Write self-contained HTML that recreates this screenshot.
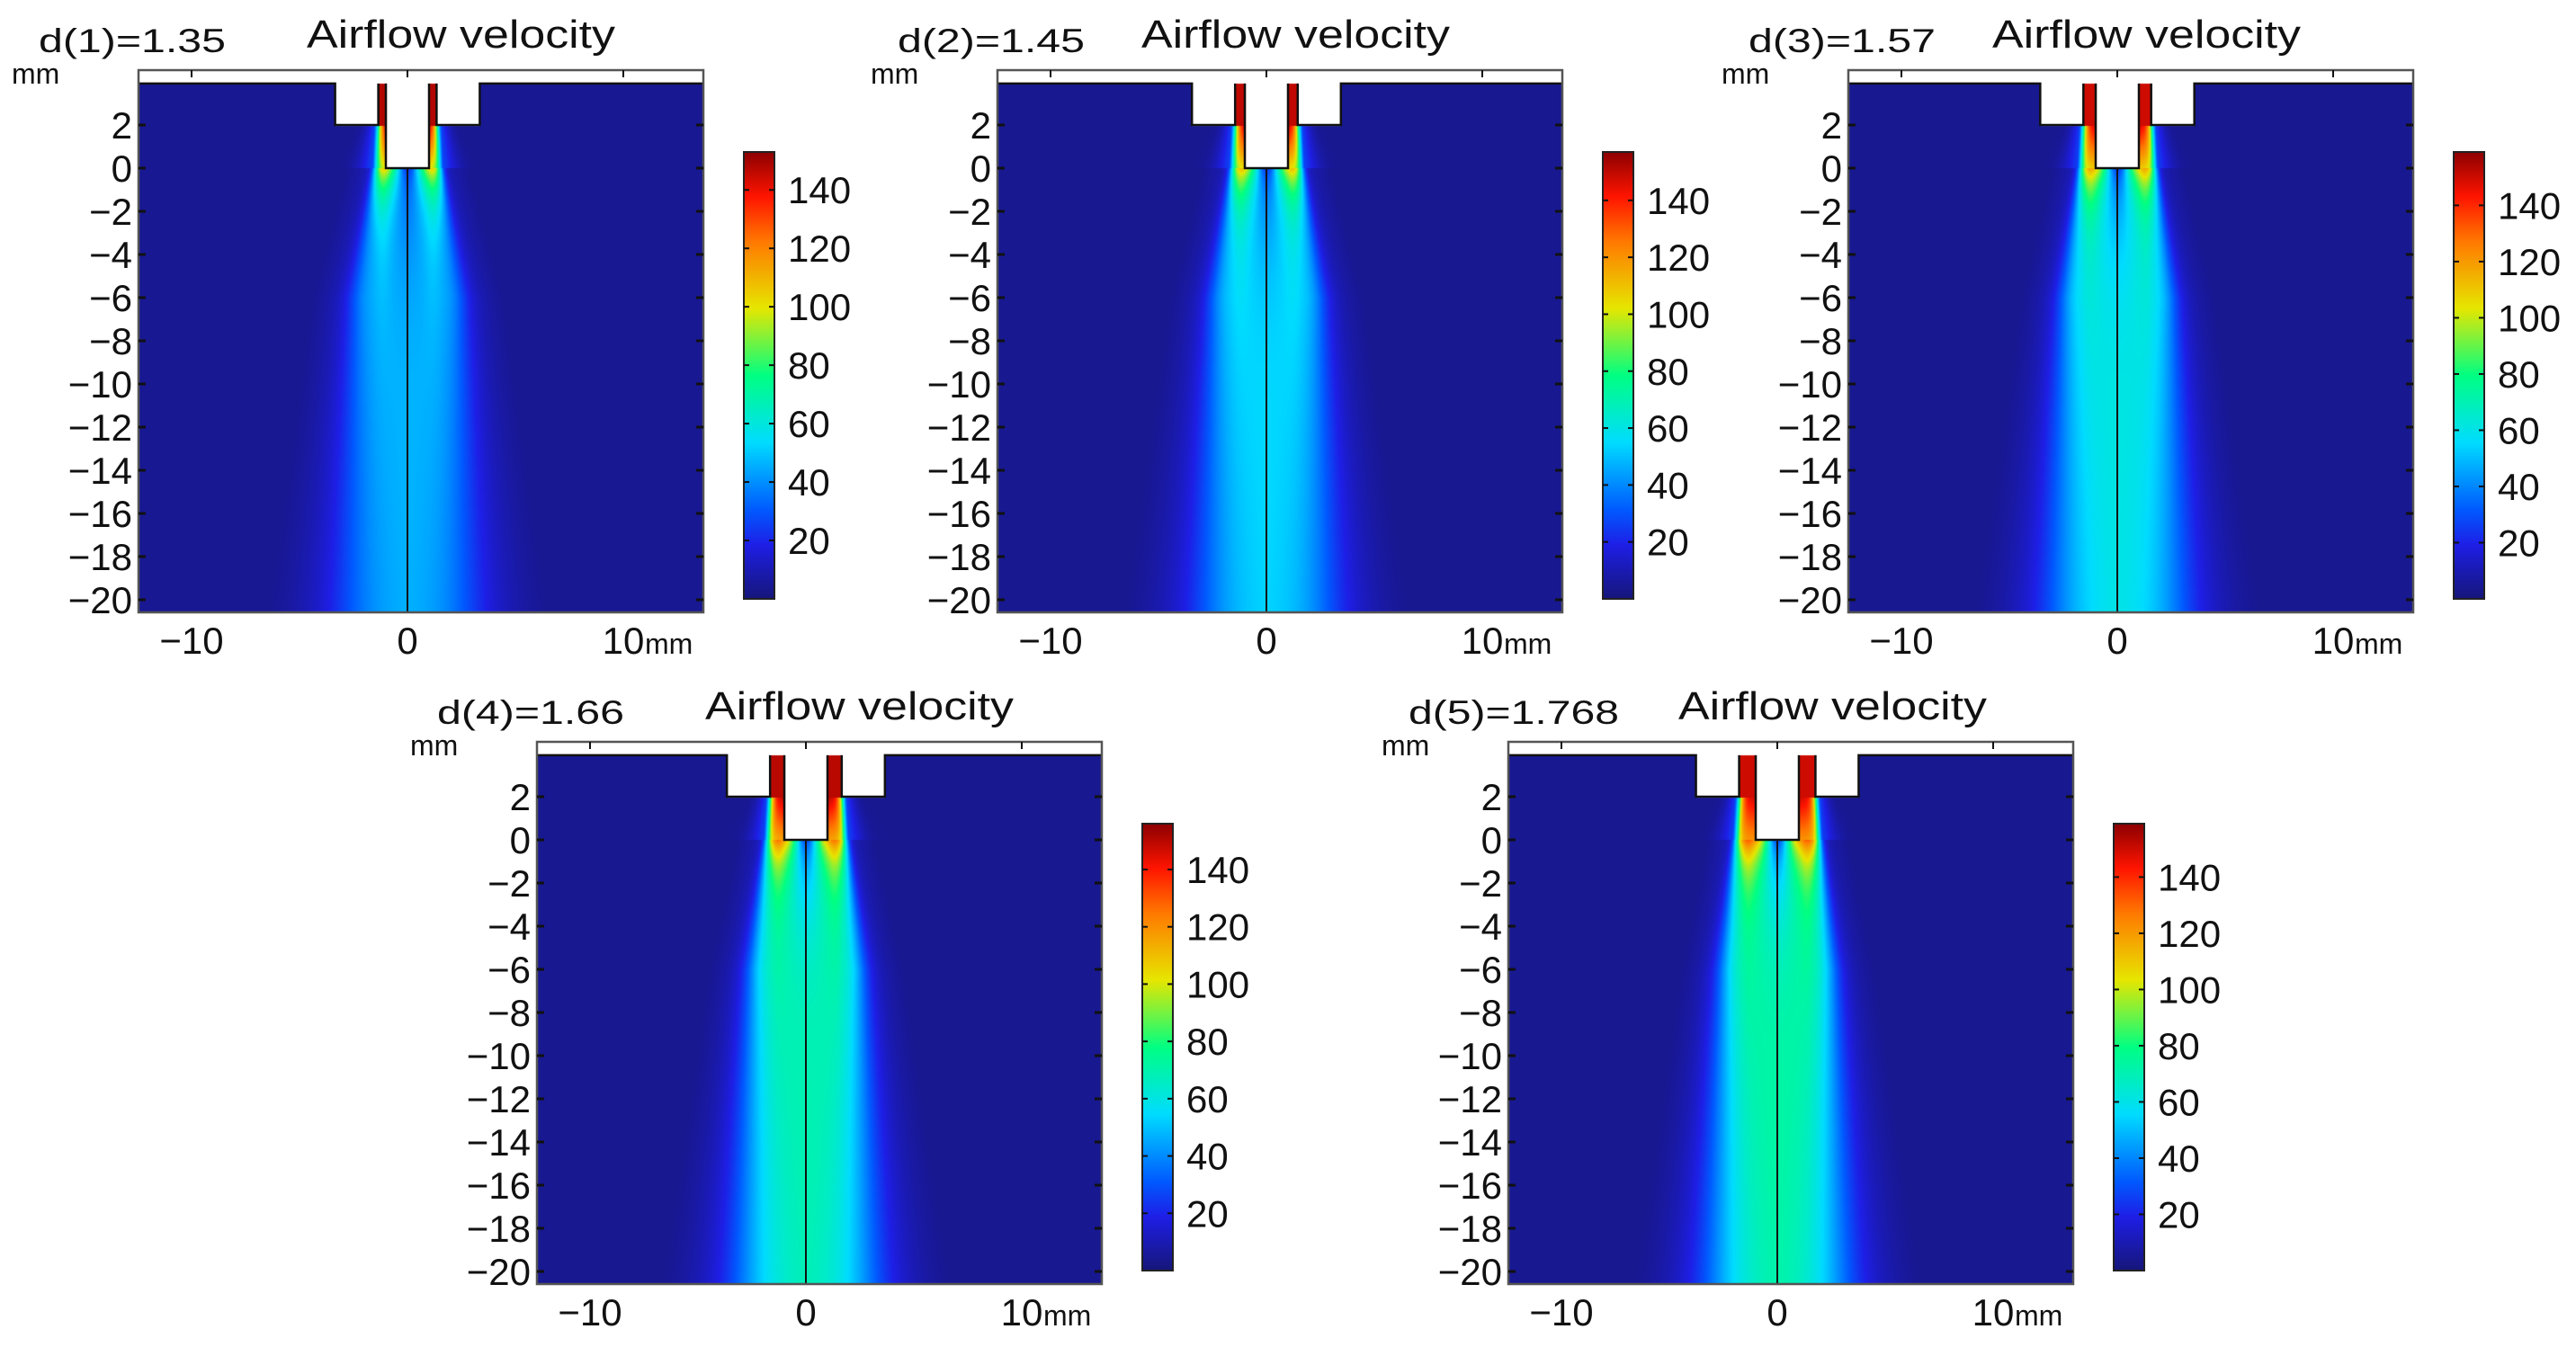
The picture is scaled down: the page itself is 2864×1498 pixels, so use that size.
<!DOCTYPE html>
<html><head><meta charset="utf-8"><title>Airflow velocity</title>
<style>
html,body{margin:0;padding:0;background:#fff;}
#wrap{position:relative;width:2864px;height:1498px;overflow:hidden;background:#fff;}
canvas{position:absolute;}
svg{position:absolute;left:0;top:0;}
text{font-family:"Liberation Sans",sans-serif;fill:#111;}
</style></head>
<body>
<div id="wrap">
<svg id="svg" width="2864" height="1498"></svg>
</div>
<script>
// ---- data ----
const panelLabels = ["d(1)=1.35","d(2)=1.45","d(3)=1.57","d(4)=1.66","d(5)=1.768"];
const nozzleD = [1.35, 1.45, 1.57, 1.66, 1.768];
const coreVelocity = [47, 55, 62, 70, 74];
const exitVelocity = [95, 100, 105, 112, 118];
const nozzleVelocity = [148, 150, 150, 150, 150];
const colorbarMax = [153, 157, 159, 156, 159];
const yTicks = [2,0,-2,-4,-6,-8,-10,-12,-14,-16,-18,-20];
const xTicks = [-10, 0, 10];
const cbTicks = [20,40,60,80,100,120,140];
// layout (pixel) positions of panels
const panelLeft = [154, 1109, 2055, 597, 1677];
const panelTop = [78, 78, 78, 825, 825];
const titleDx = [187, 160, 160, 187, 189];
const labelW = [208, 208, 208, 208, 234];

const PW = 628, PH = 603, X0 = 299, Y0 = 109, KX = 24, KY = 24;
const CMAP = [[0,22,22,122],[0.12,30,30,230],[0.2,0,90,255],[0.35,0,220,255],[0.5,0,255,130],[0.65,230,230,0],[0.8,255,120,0],[0.9,255,20,0],[1,140,0,0]];
function cmap(t){
  t = Math.max(0, Math.min(1, t));
  for (let i=1;i<CMAP.length;i++){
    if (t <= CMAP[i][0]){
      const a=CMAP[i-1], b=CMAP[i], f=(t-a[0])/(b[0]-a[0]);
      return [a[1]+(b[1]-a[1])*f, a[2]+(b[2]-a[2])*f, a[3]+(b[3]-a[3])*f];
    }
  }
  return [140,0,0];
}
function sig(z){return 1/(1+Math.exp(-z));}
function vel(x,y,p){
  const d = nozzleD[p], ax = Math.abs(x), nw = d + 2;
  const bg = 4;
  if (y > 0){
    if (y >= 2){
      if (ax >= nw) return bg;
      if (ax >= 1 && ax <= d) return nozzleVelocity[p];
      return null;
    }
    if (ax < 1) return null;
    const t = (2 - y)/2;
    const chan = sig((d + 0.15*t - ax)/0.12);
    const vTop = nozzleVelocity[p] - (nozzleVelocity[p]-exitVelocity[p])*t*0.9;
    const glow = Math.exp(-Math.pow((ax-d)/ (0.5+0.4*t),2)) * 25;
    return bg + Math.max(chan*(vTop-bg), glow);
  }
  const dy = -y;
  const hw = (d+0.15) + (2.4-(d+0.15))*Math.min(1, dy/6) + 0.02*dy;
  const s = 0.12 + 0.035*dy;
  let core = coreVelocity[p] + (exitVelocity[p]-coreVelocity[p])*Math.exp(-dy/1.2);
  let v = core * sig((hw-ax)/s);
  v += 10*sig((hw+1.2+0.08*dy-ax)/(0.4+0.05*dy))*(1-sig((hw-ax)/s));
  const gap = Math.exp(-x*x/(0.35+0.05*dy)) * Math.exp(-dy/2.5) * 0.75;
  v *= (1-gap);
  v += 15*Math.exp(-Math.pow((ax-(1+d)/2)/0.35,2))*Math.exp(-dy/3);
  return Math.max(bg, v);
}
const svg = document.getElementById('svg');
const NS = "http://www.w3.org/2000/svg";
function mk(tag, attrs, parent){
  const e = document.createElementNS(NS, tag);
  for (const k in attrs) e.setAttribute(k, attrs[k]);
  (parent||svg).appendChild(e);
  return e;
}
const defs = mk('defs',{});
const lg = mk('linearGradient',{id:'jet',x1:0,y1:1,x2:0,y2:0},defs);
for (const s of CMAP){ mk('stop',{offset:s[0],'stop-color':`rgb(${s[1]},${s[2]},${s[3]})`},lg); }

const wrap = document.getElementById('wrap');
const FS = 42;
for (let p=0;p<5;p++){
  const L = panelLeft[p], T = panelTop[p];
  const sx = x => L + X0 + KX*x;
  const sy = y => T + Y0 - KY*y;
  const g = mk('g',{});
  
  
  const cv = document.createElement('canvas');
  cv.width = PW; cv.height = PH;
  cv.style.left = L+'px'; cv.style.top = T+'px';
  
  
  wrap.insertBefore(cv, svg);
  const ctx = cv.getContext('2d');
  const img = ctx.createImageData(PW, PH);
  const vmax = colorbarMax[p];
  for (let j=0;j<PH;j++){
    const y = (Y0 - j)/KY;
    for (let i=0;i<PW;i++){
      const x = (i - X0)/KX;
      const k = (j*PW+i)*4;
      let c = [255,255,255];
      if (y <= 3.92){
        const v = vel(x,y,p);
        if (v !== null) c = cmap(v/vmax);
      }
      img.data[k]=c[0]; img.data[k+1]=c[1]; img.data[k+2]=c[2]; img.data[k+3]=255;
    }
  }
  ctx.putImageData(img,0,0);
  const d = nozzleD[p], nw = d+2;
  const path = `M${L},${sy(3.92)} H${sx(-nw)} V${sy(2)} H${sx(-d)} V${sy(3.92)} M${sx(-1)},${sy(3.92)} V${sy(0)} H${sx(1)} V${sy(3.92)} M${sx(d)},${sy(3.92)} V${sy(2)} H${sx(nw)} V${sy(3.92)} H${L+PW}`;
  const ol = mk('path',{d:path,fill:'none',stroke:'#111','stroke-width':2.5},g);
  
  
  const cl = mk('line',{x1:sx(0),y1:sy(0),x2:sx(0),y2:T+PH,stroke:'#111','stroke-width':2},g);
  
  
  const fr = mk('rect',{x:L,y:T,width:PW,height:PH,fill:'none',stroke:'#555','stroke-width':2.5},g);
  
  
  for (const v of yTicks){
    const yy = sy(v);
    mk('line',{x1:L,y1:yy,x2:L+8,y2:yy,stroke:'#111','stroke-width':3},g);
    mk('line',{x1:L+PW-8,y1:yy,x2:L+PW,y2:yy,stroke:'#111','stroke-width':3},g);
    const t = mk('text',{x:L-7,y:yy+15,'text-anchor':'end','font-size':FS},g);
    t.textContent = (v<0?'\u2212':'')+Math.abs(v);
    
    
  }
  for (const v of xTicks){
    mk('line',{x1:sx(v),y1:T,x2:sx(v),y2:T+8,stroke:'#111','stroke-width':2},g);
    const t = mk('text',{x:sx(v),y:T+649,'text-anchor':'middle','font-size':FS},g);
    t.textContent = (v<0?'\u2212':'')+Math.abs(v);
    
    
  }
  const xu = mk('text',{x:sx(10)+24,y:T+649,'font-size':32},g);
  xu.textContent = 'mm';
  
  
  const yu = mk('text',{x:L-141,y:T+15,'font-size':32},g);
  yu.textContent = 'mm';
  
  
  const ti = mk('text',{x:L+titleDx[p],y:T-25,'font-size':44,textLength:343,lengthAdjust:'spacingAndGlyphs'},g);
  ti.textContent = 'Airflow velocity';
  
  
  const dl = mk('text',{x:L-111,y:T-20,'font-size':37,textLength:labelW[p],lengthAdjust:'spacingAndGlyphs'},g);
  dl.textContent = panelLabels[p];
  
  
  const cbx = L+673, cbt = T+91, cbh = 497;
  const cb = mk('rect',{x:cbx,y:cbt,width:34,height:cbh,fill:'url(#jet)',stroke:'#222','stroke-width':2},g);
  
  
  for (const v of cbTicks){
    const yy = cbt + (1 - v/vmax)*cbh;
    mk('line',{x1:cbx,y1:yy,x2:cbx+6,y2:yy,stroke:'#111','stroke-width':2},g);
    mk('line',{x1:cbx+28,y1:yy,x2:cbx+34,y2:yy,stroke:'#111','stroke-width':2},g);
    const t = mk('text',{x:L+722,y:yy+15,'font-size':FS},g);
    t.textContent = v;
    
    
  }
}
</script>
</body></html>
